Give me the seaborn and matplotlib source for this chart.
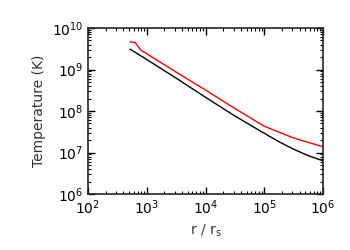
import numpy as np
import pandas as pd
import matplotlib
matplotlib.use("Agg")
import matplotlib.pyplot as plt
import seaborn as sns

# radius in units of r_s, temperature in K
r_black = [520, 1000, 3162, 1e4, 3.16e4, 1e5, 1.78e5, 3.16e5, 5.6e5, 1e6]
t_black = [3.1e9, 1.74e9, 6.2e8, 2.14e8, 7.6e7, 2.9e7, 1.82e7, 1.2e7, 8.4e6, 6.3e6]

r_red = [520, 630, 800, 1000, 3000, 1e4, 3.16e4, 1e5, 1.78e5, 3e5, 5.6e5, 1e6]
t_red = [4.6e9, 4.5e9, 2.9e9, 2.4e9, 9.1e8, 3.2e8, 1.15e8, 4.3e7, 3.1e7, 2.3e7, 1.75e7, 1.38e7]

sns.set_style("ticks")
plt.rcParams['font.family'] = ['DejaVu Sans']

df_b = pd.DataFrame({'r': r_black, 'T': t_black})
df_r = pd.DataFrame({'r': r_red, 'T': t_red})

fig = plt.figure(figsize=(3.5, 2.5), dpi=100)
ax = fig.add_axes([88 / 350, 1 - 194 / 250, 235 / 350, 166 / 250])

sns.lineplot(data=df_b, x='r', y='T', color='black', lw=1.0, ax=ax)
sns.lineplot(data=df_r, x='r', y='T', color='red', lw=1.0, ax=ax)

ax.set_xscale('log')
ax.set_yscale('log')
ax.set_xlim(1e2, 1e6)
ax.set_ylim(1e6, 1e10)
ax.tick_params(which='both', direction='in', top=True, right=True, labelsize=10, colors='black')
ax.tick_params(which='major', length=5, width=1)
ax.tick_params(which='minor', length=2.5, width=0.8)
for s in ax.spines.values():
    s.set_linewidth(1.2)

ax.set_xlabel(r'r / r$_\mathrm{s}$', fontsize=10, color='#333333')
ax.set_ylabel('Temperature (K)', fontsize=10, color='#333333')

fig.savefig('out.png', dpi=100)
